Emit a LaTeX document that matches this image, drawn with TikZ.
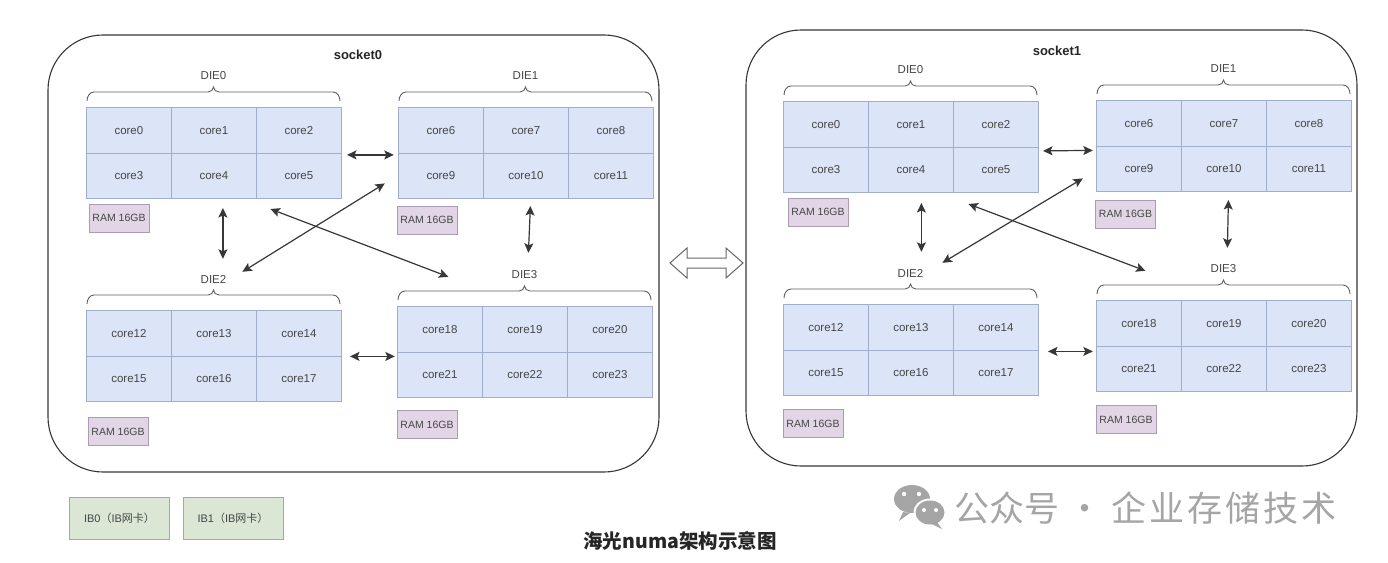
\documentclass[tikz,border=0pt]{standalone}
\usepackage{fontspec}
\setmainfont{Liberation Sans}
\newfontfamily\cjk{Noto Sans CJK SC}
\usetikzlibrary{fit,arrows.meta,calc}
\definecolor{cellfill}{RGB}{220,228,248}
\definecolor{celldraw}{RGB}{160,174,204}
\definecolor{ramfill}{RGB}{226,214,230}
\definecolor{ramdraw}{RGB}{172,155,178}
\definecolor{ibfill}{RGB}{219,230,212}
\definecolor{ibdraw}{RGB}{160,174,150}
\definecolor{txt}{RGB}{70,70,70}
\definecolor{edge}{RGB}{55,55,55}
\definecolor{wm}{RGB}{165,165,165}
\tikzset{
  cell/.style={draw=celldraw, fill=cellfill, line width=0.8pt, minimum width=85, minimum height=45.5, inner sep=0pt, text=txt, font=\fontsize{11.5}{13}\selectfont, anchor=north west},
  dielabel/.style={text=txt, font=\fontsize{11.5}{13}\selectfont, inner sep=1pt},
  bracket/.style={draw=edge!80, line width=0.9pt},
  rambox/.style={draw=ramdraw, fill=ramfill, line width=0.8pt, minimum width=60, minimum height=28, inner sep=0pt, text=txt, font=\fontsize{10.5}{12}\selectfont},
  ibbox/.style={draw=ibdraw, fill=ibfill, line width=0.8pt, minimum width=100, minimum height=42, inner sep=0pt, text=txt, font=\fontsize{11}{13}\selectfont},
  socketbox/.style={draw=edge, line width=1.1pt, rounded corners=55, inner sep=0pt},
  sockettitle/.style={font=\bfseries\fontsize{13}{15}\selectfont, text=black!85},
  link/.style={draw=edge, line width=1.2pt, {Stealth[length=9.5pt,width=9pt,inset=2pt]}-{Stealth[length=9.5pt,width=9pt,inset=2pt]}},
}
\newcommand\mkdie[5]{%
  \foreach \r in {0,1}{\foreach \c in {0,1,2}{%
    \pgfmathtruncatemacro\k{#4+3*\r+\c}%
    \node[cell] (#1-\r\c) at ({#2+\c*85},{#3+\r*45.5}) {core\k};
  }}
  \node[fit=(#1-00)(#1-12), inner sep=0pt] (#1) {};
  \node[dielabel] (#1l) at ({#2+127.5},{#3-31}) {#5};
  \draw[bracket] ({#2+1},{#3-6}) to[out=90,in=180] ({#2+8},{#3-15}) -- ({#2+122},{#3-15})
     to[out=0,in=-90] ({#2+127.5},{#3-20}) to[out=-90,in=180] ({#2+133},{#3-15})
     -- ({#2+247},{#3-15}) to[out=0,in=90] ({#2+254},{#3-6});
}
\begin{document}
\begin{tikzpicture}[x=1pt,y=-1pt]
\useasboundingbox (0,0) rectangle (1388,562);
\fill[white] (0,0) rectangle (1388,562);
% sockets
\node[socketbox, fit={(48,35)(659,472)}] (s0) {};
\node[socketbox, fit={(746,30)(1357,466)}] (s1) {};
\node[sockettitle] (s0t) at (358,55) {socket0};
\node[sockettitle] (s1t) at (1057,51) {socket1};
% socket0 dies
\mkdie{s0d0}{86}{107}{0}{DIE0}
\mkdie{s0d1}{398}{107}{6}{DIE1}
\mkdie{s0d2}{86}{310}{12}{DIE2}
\mkdie{s0d3}{397}{306}{18}{DIE3}
% socket1 dies
\mkdie{s1d0}{783}{101}{0}{DIE0}
\mkdie{s1d1}{1096}{100}{6}{DIE1}
\mkdie{s1d2}{783}{304}{12}{DIE2}
\mkdie{s1d3}{1096}{300}{18}{DIE3}
% RAM
\node[rambox] (s0r0) at (119,218) {RAM 16GB};
\node[rambox] (s0r1) at (427,220) {RAM 16GB};
\node[rambox] (s0r2) at (118,431.5) {RAM 16GB};
\node[rambox] (s0r3) at (427,424.5) {RAM 16GB};
\node[rambox] (s1r0) at (818,212) {RAM 16GB};
\node[rambox] (s1r1) at (1125.5,214) {RAM 16GB};
\node[rambox] (s1r2) at (813,423.5) {RAM 16GB};
\node[rambox] (s1r3) at (1126,419.5) {RAM 16GB};
% socket0 links
\draw[link] ([shift={(5,2)}]s0d0.east) -- ([shift={(-4,2)}]s0d1.west);
\draw[link] ([shift={(9,9)}]s0d0.south) -- ([shift={(9,-51)}]s0d2.north);
\draw[link] ([shift={(4.5,7)}]s0d1.south) -- ([shift={(3.5,-53)}]s0d3.north);
\draw[link] ([shift={(28.5,-38)}]s0d2.north) -- ([shift={(-13,30.5)}]s0d1.west);
\draw[link] ([shift={(56.5,10)}]s0d0.south) -- ([shift={(-76.5,-29)}]s0d3.north);
\draw[link] ([shift={(8,0.5)}]s0d2.east) -- ([shift={(-2,4.5)}]s0d3.west);
% socket1 links
\draw[link] ([shift={(4,4)}]s1d0.east) -- ([shift={(-3,4.5)}]s1d1.west);
\draw[link] ([shift={(10.5,10)}]s1d0.south) -- ([shift={(10.5,-52)}]s1d2.north);
\draw[link] ([shift={(4.5,8)}]s1d1.south) -- ([shift={(3.5,-52)}]s1d3.north);
\draw[link] ([shift={(31.5,-41)}]s1d2.north) -- ([shift={(-13,32.5)}]s1d1.west);
\draw[link] ([shift={(57.5,11)}]s1d0.south) -- ([shift={(-78.5,-29)}]s1d3.north);
\draw[link] ([shift={(9,1.5)}]s1d2.east) -- ([shift={(-3,5.5)}]s1d3.west);
% big double arrow between sockets
\draw[draw=black!60, line width=1pt, fill=white, line join=miter]
  (670,263) -- (687,248) -- (687,258) -- (726,258) -- (726,248) -- (743,263)
  -- (726,278) -- (726,268) -- (687,268) -- (687,278) -- cycle;
% IB cards
\node[ibbox] (ib0) at (119.5,518) {IB0{\cjk （}IB{\cjk 网卡）}};
\node[ibbox] (ib1) at (233,518) {IB1{\cjk （}IB{\cjk 网卡）}};
% title
\node[font=\cjk\bfseries\fontsize{19.5}{22}\selectfont, text=black!85] (title) at (680,541) {海光numa架构示意图};
% watermark
\fill[wm] (912,499) ellipse [x radius=18, y radius=14];
\fill[wm] (903,512) -- (899,521) -- (910,513) -- cycle;
\fill[white] (904,494) circle (2.2);
\fill[white] (919,494) circle (2.2);
\fill[white] (930,512.5) ellipse [x radius=16.5, y radius=14];
\fill[wm] (930,512.5) ellipse [x radius=14.5, y radius=12];
\fill[wm] (937,522) -- (942,529) -- (932,524) -- cycle;
\fill[white] (924,510) circle (2);
\fill[white] (936,510) circle (2);
\node[font=\cjk\fontsize{35}{38}\selectfont, text=wm, anchor=west, inner sep=0pt] (wmtext) at (954,508) {公众号 ·\hspace{2pt} 企\hspace{3pt}业\hspace{3pt}存\hspace{3pt}储\hspace{3pt}技\hspace{3pt}术};
\end{tikzpicture}
\end{document}
